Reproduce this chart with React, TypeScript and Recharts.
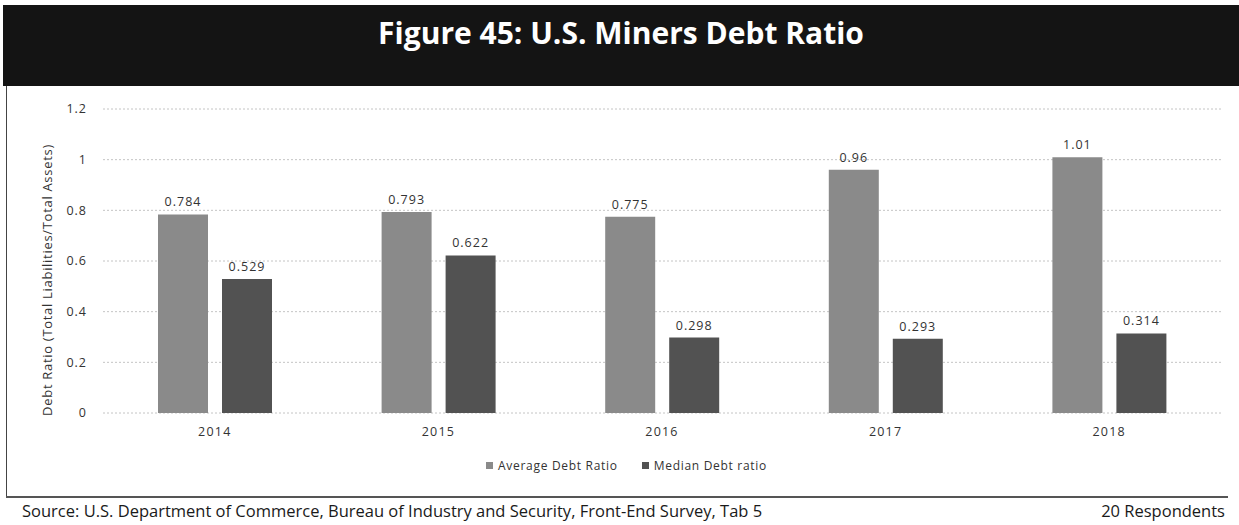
import React from 'react';
import { BarChart, Bar, XAxis, YAxis, CartesianGrid, LabelList } from 'recharts';

const YEARS = ['2014', '2015', '2016', '2017', '2018'];
const AVERAGE_DEBT = [0.784, 0.793, 0.775, 0.96, 1.01];
const MEDIAN_DEBT = [0.529, 0.622, 0.298, 0.293, 0.314];
const Y_TICKS = [0, 0.2, 0.4, 0.6, 0.8, 1, 1.2];

const AVG_COLOR = '#8a8a8a';
const MED_COLOR = '#525252';
const FONT = '"Open Sans", sans-serif';

const data = YEARS.map((year, i) => ({
  year,
  average: AVERAGE_DEBT[i],
  median: MEDIAN_DEBT[i],
}));

const LEGEND_ITEMS = [
  { name: 'Average Debt Ratio', color: AVG_COLOR },
  { name: 'Median Debt ratio', color: MED_COLOR },
];

const YTitle = () => (
  <text
    x={47}
    y={280}
    transform="rotate(-90, 47, 280)"
    textAnchor="middle"
    dominantBaseline="central"
    fontFamily={FONT}
    fontSize={13}
    letterSpacing={0.7}
    fill="#333"
  >
    Debt Ratio (Total Liabilities/Total Assets)
  </text>
);

const App: React.FC = () => {
  return (
    <div style={{ position: 'fixed', left: 0, top: 0, width: 1239, height: 525, background: '#fff', fontFamily: FONT }}>
      {/* header band */}
      <div style={{ position: 'absolute', left: 3, top: 5, width: 1236, height: 81, background: '#141414' }}>
        <div style={{ position: 'absolute', top: 7, width: '100%', textAlign: 'center', color: '#fff', fontSize: 30, fontWeight: 700, letterSpacing: 0 }}>
          Figure 45: U.S. Miners Debt Ratio
        </div>
      </div>
      {/* frame lines */}
      <div style={{ position: 'absolute', left: 6, top: 86, width: 1, height: 411, background: '#444' }} />
      <div style={{ position: 'absolute', left: 6, top: 496, width: 1222, height: 1.5, background: '#555' }} />

      <div style={{ position: 'absolute', left: 0, top: 0 }}>
        <BarChart
          width={1239}
          height={525}
          data={data}
          margin={{ top: 109, right: 18, bottom: 82, left: 43 }}
          barGap={14}
        >
          <CartesianGrid vertical={false} stroke="#c4c4c4" strokeDasharray="2 2" />
          <XAxis
            dataKey="year"
            axisLine={false}
            tickLine={false}
            height={30}
            tickMargin={8}
            tick={{ fill: '#333', fontSize: 12.5, fontFamily: FONT, letterSpacing: 1.2 }}
          />
          <YAxis
            width={60}
            domain={[0, 1.2]}
            ticks={Y_TICKS}
            axisLine={false}
            tickLine={false}
            tickMargin={10}
            tick={{ fill: '#333', fontSize: 12.5, fontFamily: FONT, letterSpacing: 1 }}
            label={<YTitle />}
          />
          <Bar dataKey="average" name="Average Debt Ratio" fill={AVG_COLOR} barSize={50} isAnimationActive={false}>
            <LabelList dataKey="average" position="top" offset={8} fill="#333" fontSize={12.5} fontFamily={FONT} letterSpacing={1} />
          </Bar>
          <Bar dataKey="median" name="Median Debt ratio" fill={MED_COLOR} barSize={50} isAnimationActive={false}>
            <LabelList dataKey="median" position="top" offset={8} fill="#333" fontSize={12.5} fontFamily={FONT} letterSpacing={1} />
          </Bar>
        </BarChart>
      </div>

      {/* legend */}
      <div style={{ position: 'absolute', top: 457, left: 0, width: 1239, display: 'flex', justifyContent: 'center', gap: 24, paddingLeft: 14, boxSizing: 'border-box', fontSize: 12, letterSpacing: 0.7, color: '#333' }}>
        {LEGEND_ITEMS.map((item) => (
          <div key={item.name} style={{ display: 'flex', alignItems: 'center', gap: 5 }}>
            <span style={{ width: 7, height: 7, background: item.color, display: 'inline-block' }} />
            <span>{item.name}</span>
          </div>
        ))}
      </div>

      <div style={{ position: 'absolute', left: 22, top: 499, fontSize: 16.5, color: '#1a1a1a' }}>
        Source: U.S. Department of Commerce, Bureau of Industry and Security, Front-End Survey, Tab 5
      </div>
      <div style={{ position: 'absolute', right: 14, top: 499, fontSize: 16.5, color: '#1a1a1a' }}>
        20 Respondents
      </div>
    </div>
  );
};

export default App;
